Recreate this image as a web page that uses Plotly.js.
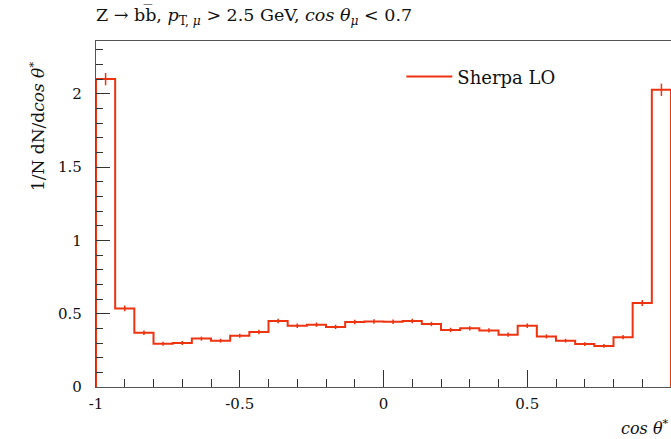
<!DOCTYPE html>
<html>
<head>
<meta charset="utf-8">
<script src="https://cdn.plot.ly/plotly-3.0.1.min.js"></script>
<style>html,body{margin:0;padding:0;background:#fff;}#plot{width:671px;height:439px;}</style>
</head>
<body>
<div id="plot"></div>
<script>
// Histogram binning: 30 bins between -1 and 1
var xLow = -1;
var xHigh = 1;
var nBins = 30;
// Normalised bin contents 1/N dN/dcos(theta*)
var values = [2.10, 0.536, 0.37, 0.295, 0.30, 0.33, 0.316, 0.35, 0.375, 0.45,
              0.418, 0.425, 0.41, 0.443, 0.447, 0.445, 0.45, 0.43, 0.389, 0.40,
              0.386, 0.357, 0.418, 0.345, 0.316, 0.293, 0.28, 0.34, 0.573, 2.027];
// Statistical uncertainties
var errors = [0.042, 0.02, 0.015, 0.013, 0.013, 0.014, 0.013, 0.014, 0.015, 0.016,
              0.015, 0.015, 0.015, 0.015, 0.015, 0.015, 0.015, 0.015, 0.015, 0.015,
              0.015, 0.014, 0.015, 0.014, 0.013, 0.013, 0.013, 0.014, 0.02, 0.042];
var xTickVals = [-1, -0.5, 0, 0.5, 1];
var xTickText = ['-1', '-0.5', '0', '0.5', '1'];
var yTickVals = [0, 0.5, 1, 1.5, 2];
var yTickText = ['0', '0.5', '1', '1.5', '2'];

var w = (xHigh - xLow) / nBins;
var edges = [];
for (var i = 0; i <= nBins; i++) edges.push(xLow + i * w);
var centers = [];
for (var i = 0; i < nBins; i++) centers.push((edges[i] + edges[i + 1]) / 2);

var sx = [xLow], sy = [0];
for (var i = 0; i < nBins; i++) {
  sx.push(edges[i], edges[i + 1]);
  sy.push(values[i], values[i]);
}
sx.push(xHigh); sy.push(0);

var red = '#ee3311';
var font = 'DejaVu Serif, Liberation Serif, serif';

var traces = [
  {x: sx, y: sy, mode: 'lines', name: 'Sherpa LO',
   line: {color: red, width: 2}, hoverinfo: 'skip'},
  {x: centers, y: values, mode: 'markers', showlegend: false,
   marker: {size: 1, color: red, opacity: 0},
   error_y: {type: 'data', array: errors, visible: true, color: red, thickness: 1.5, width: 0}}
];

var axisCommon = {
  showline: true, linecolor: '#555', linewidth: 1.2, mirror: true,
  ticks: 'inside', tickcolor: '#333', showgrid: false, zeroline: false,
  tickfont: {family: font, size: 15, color: '#111'}
};

var layout = {
  width: 671, height: 439,
  margin: {l: 96, r: 0, t: 41, b: 52},
  paper_bgcolor: '#fff', plot_bgcolor: '#fff',
  font: {family: font, color: '#111'},
  showlegend: true,
  legend: {x: 0.531, y: 0.95, xanchor: 'left', yanchor: 'top', bgcolor: 'rgba(0,0,0,0)',
           font: {family: font, size: 18, color: '#111'}, itemwidth: 46},
  title: {text: 'Z → bb\u0305, <i>p</i><sub>T, <i>μ</i></sub> > 2.5 GeV, <i>cos θ</i><sub><i>μ</i></sub> < 0.7',
          x: 96 / 671, xanchor: 'left', y: 1 - 15 / 439, yanchor: 'middle',
          font: {family: font, size: 17.5, color: '#111'}},
  xaxis: Object.assign({}, axisCommon, {
    range: [xLow, xHigh], tickvals: xTickVals, ticktext: xTickText, ticklen: 17,
    minor: {dtick: 0.1, ticks: 'inside', ticklen: 8, tickcolor: '#333'},
    ticklabelstandoff: 3
  }),
  yaxis: Object.assign({}, axisCommon, {
    range: [0, 2.36], tickvals: yTickVals, ticktext: yTickText, ticklen: 14,
    minor: {dtick: 0.1, ticks: 'inside', ticklen: 7, tickcolor: '#333'},
    ticklabelstandoff: 10
  }),
  annotations: [
    {text: '1/N dN/d<i>cos θ</i><sup>*</sup>', xref: 'paper', yref: 'paper',
     x: (37 - 96) / 575, y: (387 - 127) / 346, xanchor: 'center', yanchor: 'middle',
     textangle: -90, showarrow: false, font: {family: font, size: 17, color: '#111'}},
    {text: '<i>cos θ</i><sup>*</sup>', xref: 'paper', yref: 'paper',
     x: 1, y: (387 - 427) / 346, xanchor: 'right', yanchor: 'middle',
     showarrow: false, font: {family: font, size: 16, color: '#111'}}
  ]
};

Plotly.newPlot('plot', traces, layout, {displayModeBar: false, staticPlot: true});
</script>
</body>
</html>
